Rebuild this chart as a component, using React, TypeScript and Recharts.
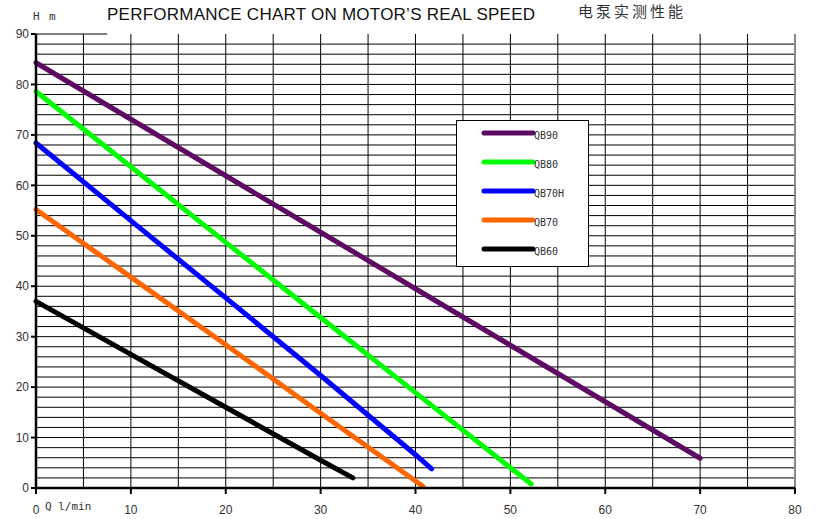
import { LineChart, Line, XAxis, YAxis, CartesianGrid, Legend, ReferenceLine } from 'recharts'

// flow Q (l/min) and head H (m)
const flowQB90 = [0, 10, 20, 30, 40, 50, 60, 70]
const headQB90 = [84.3, 73.1, 61.9, 50.7, 39.5, 28.3, 17.1, 5.9]

const flowQB80 = [0, 10, 20, 30, 40, 50, 52.2]
const headQB80 = [78.6, 63.7, 48.7, 33.8, 18.9, 4.0, 0.8]

const flowQB70H = [0, 10, 20, 30, 40, 41.7]
const headQB70H = [68.4, 53.0, 37.7, 22.3, 6.6, 3.8]

const flowQB70 = [0, 10, 20, 30, 40, 40.8]
const headQB70 = [55.2, 41.8, 28.4, 14.8, 1.4, 0.3]

const flowQB60 = [0, 10, 20, 30, 33.4]
const headQB60 = [37.0, 26.5, 16.0, 5.5, 2.0]

const xTicks = [0, 10, 20, 30, 40, 50, 60, 70, 80]
const yTicks = [0, 10, 20, 30, 40, 50, 60, 70, 80, 90]
const gridX = [5, 10, 15, 20, 25, 30, 35, 40, 45, 50, 55, 60, 65, 70, 75]
const gridY = [2, 4, 6, 8, 10, 12, 14, 16, 18, 20, 22, 24, 26, 28, 30, 32, 34, 36, 38, 40, 42, 44, 46, 48, 50, 52, 54, 56, 58, 60, 62, 64, 66, 68, 70, 72, 74, 76, 78, 80, 82, 84, 86, 88]

const toPoints = (flow: number[], head: number[]) => flow.map((q, i) => ({ q, h: head[i] }))

const series = [
  { name: 'QB90', color: '#5e0a62', data: toPoints(flowQB90, headQB90) },
  { name: 'QB80', color: '#00ff00', data: toPoints(flowQB80, headQB80) },
  { name: 'QB70H', color: '#0000ff', data: toPoints(flowQB70H, headQB70H) },
  { name: 'QB70', color: '#ff6600', data: toPoints(flowQB70, headQB70) },
  { name: 'QB60', color: '#000000', data: toPoints(flowQB60, headQB60) },
]
const seriesOrder = series.map((s) => s.name)

const mono = '"DejaVu Sans Mono", monospace'
const sans = '"Liberation Sans", Arial, sans-serif'

function LegendBox({ payload }: any) {
  const items = [...(payload || [])].sort(
    (a: any, b: any) => seriesOrder.indexOf(a.value) - seriesOrder.indexOf(b.value)
  )
  return (
    <div
      style={{
        position: 'absolute',
        left: 456,
        top: 120,
        width: 131,
        height: 145,
        border: '1px solid #000',
        background: '#fff',
      }}
    >
      <svg width={131} height={145}>
        {items.map((p: any, i: number) => (
          <g key={p.value}>
            <line
              x1={27}
              x2={76}
              y1={12 + i * 29}
              y2={12 + i * 29}
              stroke={p.color}
              strokeWidth={5}
              strokeLinecap="round"
            />
            <text x={77} y={18 + i * 29} fontSize={10} fontFamily={mono} fill="#333">
              {p.value}
            </text>
          </g>
        ))}
      </svg>
    </div>
  )
}

export default function App() {
  return (
    <div style={{ position: 'absolute', left: 0, top: 0, width: 816, height: 519, background: '#fff' }}>
      <LineChart width={816} height={519} margin={{ top: 34, right: 21, bottom: 0, left: 0 }}>
        <CartesianGrid
          horizontalValues={gridY}
          verticalValues={gridX}
          stroke="#000"
          strokeWidth={1}
        />
        <XAxis
          type="number"
          dataKey="q"
          domain={[0, 80]}
          ticks={xTicks}
          interval={0}
          height={31}
          tickSize={6}
          tickMargin={11}
          axisLine={{ stroke: '#000', strokeWidth: 2.5 }}
          tickLine={{ stroke: '#000', strokeWidth: 2 }}
          tick={{ fill: '#333', fontSize: 12, fontFamily: sans }}
        />
        <YAxis
          type="number"
          domain={[0, 90]}
          ticks={yTicks}
          interval={0}
          width={36}
          tickSize={5}
          tickMargin={2}
          axisLine={{ stroke: '#000', strokeWidth: 2.5 }}
          tickLine={{ stroke: '#000', strokeWidth: 2 }}
          tick={{ fill: '#333', fontSize: 12, fontFamily: sans }}
        />
        <ReferenceLine x={80} stroke="#888" strokeWidth={2} />
        <ReferenceLine
          segment={[
            { x: 0, y: 90 },
            { x: 7.5, y: 90 },
          ]}
          stroke="#000"
          strokeWidth={1}
        />
        {series.map((s) => (
          <Line
            key={s.name}
            data={s.data}
            dataKey="h"
            name={s.name}
            type="linear"
            stroke={s.color}
            strokeWidth={5}
            strokeLinecap="round"
            dot={false}
            activeDot={false}
            legendType="line"
            isAnimationActive={false}
          />
        ))}
        <Legend
          content={<LegendBox />}
          layout="horizontal"
          verticalAlign="middle"
          align="center"
          wrapperStyle={{ left: 0, top: 0, width: 0, height: 0 }}
        />
      </LineChart>
      <svg width={816} height={519} style={{ position: 'absolute', left: 0, top: 0, pointerEvents: 'none' }}>
        <text x={33} y={20} fontSize={11} fontFamily={mono} fill="#333">H</text>
        <text x={49} y={20} fontSize={11} fontFamily={mono} fill="#333">m</text>
        <text x={107} y={20} fontSize={17} textLength={428} fontFamily={sans} fill="#111">
          PERFORMANCE CHART ON MOTOR’S REAL SPEED
        </text>
        <text x={578} y={17} fontSize={15} letterSpacing={3} fontFamily={'"Noto Sans CJK SC", sans-serif'} fill="#333">
          电泵实测性能
        </text>
        <text x={45} y={510} fontSize={11} fontFamily={mono} fill="#333">Q l/min</text>
      </svg>
    </div>
  )
}
